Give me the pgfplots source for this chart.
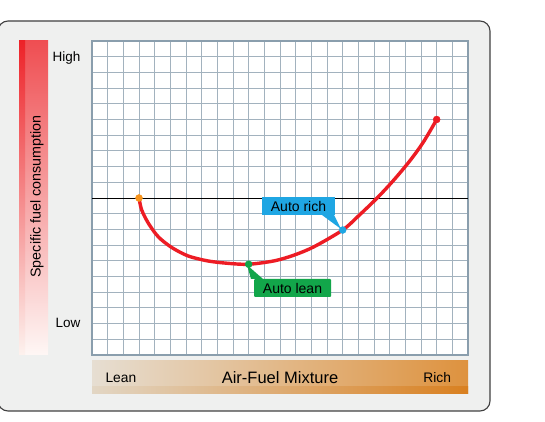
\documentclass[border=0pt]{standalone}
\usepackage{pgfplots}
\pgfplotsset{compat=1.18}
\usepackage{fontspec}
\setmainfont{Liberation Sans}
\definecolor{panelbg}{HTML}{EFF0EF}
\definecolor{gridc}{HTML}{A2B2BE}
\definecolor{framec}{HTML}{8A9EAD}
\definecolor{curvered}{HTML}{ED1C24}
\definecolor{ptorange}{HTML}{F7941D}
\definecolor{ptgreen}{HTML}{12A64A}
\definecolor{ptblue}{HTML}{1FA6E3}
\begin{document}
\begin{tikzpicture}[x=1pt,y=1pt]
\useasboundingbox (0,0) rectangle (545,422);
% panel
\draw[fill=panelbg, draw=black!75, line width=1.1pt, rounded corners=10pt] (-2,11) rectangle (490,401);
% left gradient bar
\fill[top color={rgb,255:red,239;green,78;blue,82}, middle color={rgb,255:red,244;green,146;blue,118}, bottom color={rgb,255:red,254;green,247;blue,245}] (19,67) rectangle (48,381);
\fill[top color={rgb,255:red,237;green,34;blue,40}, middle color={rgb,255:red,243;green,126;blue,98}, bottom color={rgb,255:red,253;green,242;blue,238}] (19,67) rectangle (25,381);
\node[rotate=90, font=\fontsize{14.3}{16}\selectfont] at (37,225.5) {Specific fuel consumption};
\node[anchor=base east, font=\fontsize{13.5}{16}\selectfont] at (84,360) {High};
\node[anchor=base east, font=\fontsize{13.5}{16}\selectfont] at (84,94) {Low};
% bottom gradient bar
\fill[left color={rgb,255:red,230;green,222;blue,210}, middle color={rgb,255:red,232;green,200;blue,158}, right color={rgb,255:red,222;green,146;blue,62}] (92,28) rectangle (468,61);
\fill[left color={rgb,255:red,226;green,214;blue,196}, middle color={rgb,255:red,228;green,186;blue,134}, right color={rgb,255:red,217;green,128;blue,32}] (92,28) rectangle (468,35);
\node[anchor=base west, font=\fontsize{13.8}{16}\selectfont] at (102,39.7) {Lean};
\node[anchor=base, font=\fontsize{16.5}{18}\selectfont] at (280,38.7) {Air-Fuel Mixture};
\node[anchor=base east, font=\fontsize{13.8}{16}\selectfont] at (454.5,39.7) {Rich};
% axis
\begin{axis}[
  at={(92pt,67pt)}, anchor=south west,
  scale only axis, width=376pt, height=314pt,
  xmin=0, xmax=24, ymin=0, ymax=20,
  xtick={0,...,24}, ytick={0,...,20},
  xticklabels={}, yticklabels={},
  major tick length=0pt,
  grid=major,
  major grid style={draw=gridc, line width=0.8pt},
  axis line style={draw=framec, line width=1.2pt},
  axis background/.style={fill=white},
  clip=false,
]
\addplot[black, line width=0.9pt] coordinates {(0,10) (24,10)};
\addplot[curvered, line width=3.4pt, smooth, tension=0.5] coordinates {
  (3,10) (3.17,9.24) (3.6,8.39) (4.23,7.53) (5.07,6.86) (6.13,6.31) (7.4,5.99)
  (8.67,5.84) (10,5.78) (11.65,6.0) (12.92,6.37) (14.18,6.9) (16,7.96)
  (17,8.85) (18.2,10.0) (19.27,11.15) (20.33,12.42) (21.17,13.59) (22,15)};
\addplot[only marks, mark=*, mark size=3.5pt, mark options={draw=ptorange, fill=ptorange}] coordinates {(3,10)};
\addplot[only marks, mark=*, mark size=3.5pt, mark options={draw=curvered, fill=curvered}] coordinates {(22,15)};
\end{axis}
% callouts
\fill[ptblue] (322,207) -- (334,207) -- (341,193) -- cycle;
\fill[ptblue] (262,207) rectangle (335,225);
\node[font=\fontsize{14}{16}\selectfont] at (298.5,215.5) {Auto rich};
\fill[ptgreen] (251,143) -- (263,143) -- (247,157) -- cycle;
\fill[ptgreen, rounded corners=1pt] (254,125) rectangle (331,143);
\node[font=\fontsize{14}{16}\selectfont] at (292.5,133.5) {Auto lean};
\begin{axis}[
  at={(92pt,67pt)}, anchor=south west,
  scale only axis, width=376pt, height=314pt,
  xmin=0, xmax=24, ymin=0, ymax=20,
  hide axis, clip=false,
]
\addplot[only marks, mark=*, mark size=3.5pt, mark options={draw=ptgreen, fill=ptgreen}] coordinates {(10,5.78)};
\addplot[only marks, mark=*, mark size=3.5pt, mark options={draw=ptblue, fill=ptblue}] coordinates {(16,7.96)};
\end{axis}
\end{tikzpicture}
\end{document}
